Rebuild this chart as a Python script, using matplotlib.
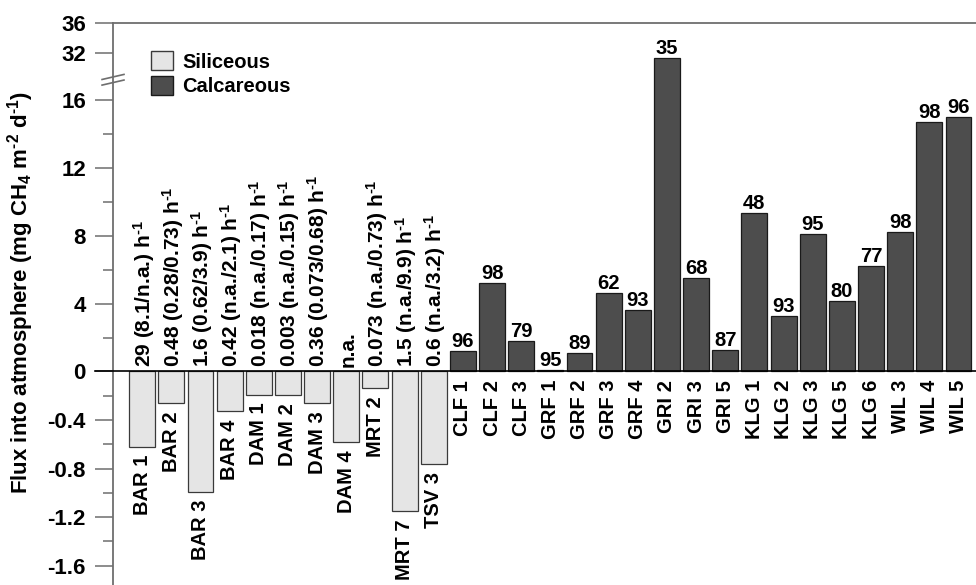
import numpy as np
import matplotlib
matplotlib.use("Agg")
import matplotlib.pyplot as plt
from matplotlib.patches import Patch

plt.rcParams['font.family'] = ['Liberation Sans', 'DejaVu Sans']
plt.rcParams['font.weight'] = 'bold'
plt.rcParams['axes.unicode_minus'] = False
plt.rcParams['mathtext.fontset'] = 'custom'
plt.rcParams['mathtext.rm'] = 'Liberation Sans:bold'
plt.rcParams['mathtext.it'] = 'Liberation Sans:bold'
plt.rcParams['mathtext.bf'] = 'Liberation Sans:bold'
plt.rcParams['mathtext.default'] = 'rm'

HM1 = "h$^{\\text{-}1}$"

# ---------------- data ----------------
sil_sites = ["BAR 1", "BAR 2", "BAR 3", "BAR 4", "DAM 1", "DAM 2", "DAM 3",
             "DAM 4", "MRT 2", "MRT 7", "TSV 3"]
sil_flux = [-0.62, -0.26, -0.99, -0.33, -0.19, -0.19, -0.26,
            -0.58, -0.14, -1.15, -0.76]
sil_notes = ["29 (8.1/n.a.) " + HM1, "0.48 (0.28/0.73) " + HM1,
             "1.6 (0.62/3.9) " + HM1, "0.42 (n.a./2.1) " + HM1,
             "0.018 (n.a./0.17) " + HM1, "0.003 (n.a./0.15) " + HM1,
             "0.36 (0.073/0.68) " + HM1, "n.a.",
             "0.073 (n.a./0.73) " + HM1, "1.5 (n.a./9.9) " + HM1,
             "0.6 (n.a./3.2) " + HM1]

cal_sites = ["CLF 1", "CLF 2", "CLF 3", "GRF 1", "GRF 2", "GRF 3", "GRF 4",
             "GRI 2", "GRI 3", "GRI 5", "KLG 1", "KLG 2", "KLG 3", "KLG 5",
             "KLG 6", "WIL 3", "WIL 4", "WIL 5"]
cal_flux = [1.18, 5.2, 1.78, 0.1, 1.1, 4.6, 3.6,
            30.2, 5.5, 1.24, 9.35, 3.25, 8.1, 4.14,
            6.2, 8.2, 14.7, 15.0]
cal_notes = ["96", "98", "79", "95", "89", "62", "93",
             "35", "68", "87", "48", "93", "95", "80",
             "77", "98", "98", "96"]

major_ticks = [-1.6, -1.2, -0.8, -0.4, 0, 4, 8, 12, 16, 32, 36]
minor_ticks = [-1.4, -1.0, -0.6, -0.2, 2, 6, 10, 14]

# ---------------- broken / piecewise y scale ----------------
seg_data = [-20.0, 0.0, 16.0, 32.0, 36.0, 100.0]
seg_disp = [-20.0 * 121.25, 0.0, 271.2, 318.2, 348.2, 348.2 + 64 * 7.5]


def fwd(y):
    return np.interp(y, seg_data, seg_disp)


def inv(d):
    return np.interp(d, seg_disp, seg_data)


fig = plt.figure(figsize=(9.76, 5.85), dpi=100)
ax = fig.add_axes([0.1158, 0.0, 1 - 0.1158, 1 - 23 / 585])
ax.set_yscale('function', functions=(fwd, inv))

sil_x = np.arange(len(sil_sites))
cal_x = np.arange(len(cal_sites)) + len(sil_sites)

ax.bar(sil_x, sil_flux, width=0.89, color='#e5e5e5', edgecolor='#3a3a3a',
       linewidth=0.9, label='Siliceous', zorder=2)
ax.bar(cal_x, cal_flux, width=0.89, color='#4d4d4d', edgecolor='#1a1a1a',
       linewidth=0.9, label='Calcareous', zorder=2)

# notes above siliceous bars (vertical)
for x, t in zip(sil_x, sil_notes):
    ax.annotate(t, (x, 0), xytext=(1, 3), textcoords='offset points',
                rotation=90, ha='center', va='bottom', fontsize=15,
                fontweight='bold')
# numbers above calcareous bars
for x, v, t in zip(cal_x, cal_flux, cal_notes):
    ax.annotate(t, (x, v), xytext=(0, 0), textcoords='offset points',
                ha='center', va='bottom', fontsize=14.5, fontweight='bold')

# site names below bars / zero line
for x, v, t in zip(np.concatenate([sil_x, cal_x]), sil_flux + cal_flux,
                   sil_sites + cal_sites):
    ax.annotate(t, (x, min(v, 0)), xytext=(0, -6), textcoords='offset points',
                rotation=90, ha='center', va='top', fontsize=14.5,
                fontweight='bold')

ax.set_xlim(-1.0, 28.6)
ax.set_ylim(-1.76, 36)
ax.set_xticks([])

ax.set_yticks(major_ticks)
ax.set_yticklabels([f"{t:g}" for t in major_ticks])
ax.set_yticks(minor_ticks, minor=True)
ax.tick_params(axis='y', which='major', length=13, width=1.1, color='#6e6e6e',
               labelsize=16, pad=6.5)
ax.tick_params(axis='y', which='minor', length=7, width=1.1, color='#6e6e6e')
for lab in ax.get_yticklabels():
    lab.set_fontweight('bold')

for s in ['right', 'bottom']:
    ax.spines[s].set_visible(False)
for s in ['left', 'top']:
    ax.spines[s].set_color('#6e6e6e')
    ax.spines[s].set_linewidth(1.3)

# zero line
ax.plot([-0.021, 1.0], [0, 0], color='black', lw=1.2,
        transform=ax.get_yaxis_transform(), clip_on=False, zorder=3)

# axis break marks
for c in (0.894, 0.904):
    ax.plot([-0.0127, 0.0127], [c - 0.0045, c + 0.0045], color='#6e6e6e',
            lw=1.2, transform=ax.transAxes, clip_on=False, zorder=4)

ax.set_ylabel("Flux into atmosphere (mg CH$_4$ m$^{\\text{-}2}$ d$^{\\text{-}1}$)",
              fontsize=16, fontweight='bold')
ax.yaxis.set_label_coords(-0.089, 0.521)

handles = [Patch(facecolor='#e5e5e5', edgecolor='#3a3a3a', label='Siliceous'),
           Patch(facecolor='#4d4d4d', edgecolor='#1a1a1a', label='Calcareous')]
ax.legend(handles=handles, loc='upper left', bbox_to_anchor=(0.044, 0.950),
          frameon=False, borderpad=0, borderaxespad=0,
          handlelength=1.1, handleheight=1.1, labelspacing=0.2,
          handletextpad=0.45, prop={'weight': 'bold', 'size': 14.5})

fig.savefig("out.png", dpi=100)
